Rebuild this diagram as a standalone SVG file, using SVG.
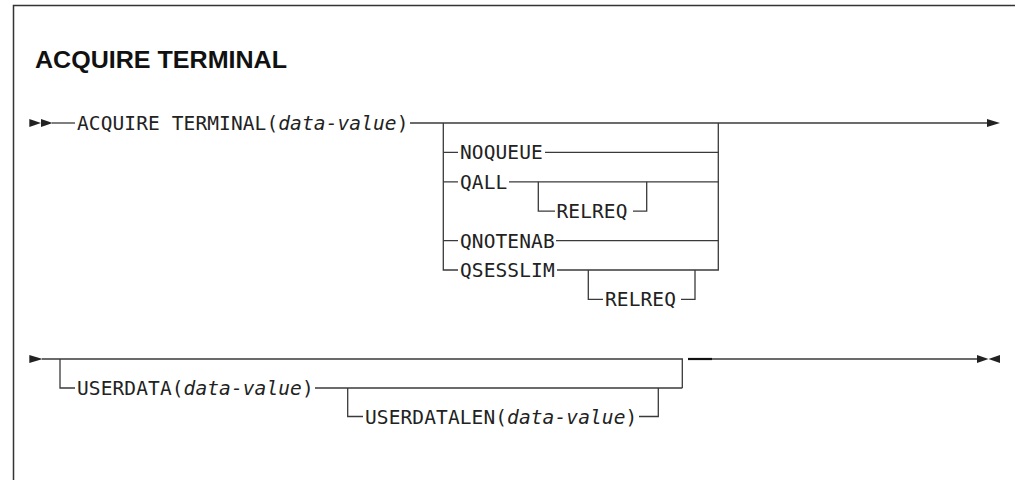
<svg xmlns="http://www.w3.org/2000/svg" width="1015" height="480" viewBox="0 0 1015 480">
<style>
.ln{stroke:#3a3a3a;stroke-width:1.3;fill:none}
.dk{stroke:#111;stroke-width:2.2;fill:none}
.ah{fill:#222;stroke:none}
.t{font-family:"DejaVu Sans Mono","Liberation Mono",monospace;font-size:19.5px;letter-spacing:0.1px;fill:#222}
.i{font-style:italic}
.ttl{font-family:"Liberation Sans",Arial,sans-serif;font-weight:bold;font-size:24px;fill:#111}
</style>
<rect x="0" y="0" width="1015" height="480" fill="#fff"/>
<path d="M13.5,480 V5.5 H1015" stroke="#333" stroke-width="1.5" fill="none"/>
<g id="title"><text class="ttl" x="35" y="67.5" textLength="252" lengthAdjust="spacingAndGlyphs">ACQUIRE TERMINAL</text></g>
<g id="connectors">
<polygon class="ah" points="29.3,119 41,123 29.3,127"/>
<polygon class="ah" points="41,119 52.7,123 41,127"/>
<path class="ln" d="M52,123 H75"/>
<path class="ln" d="M410,123 H988"/>
<polygon class="ah" points="987,119 1000,123 987,127"/>
<path class="ln" d="M443.3,123 V270 H458"/>
<path class="ln" d="M443.3,152.4 H458 M443.3,181.8 H458 M443.3,240.6 H458"/>
<path class="ln" d="M545,152.4 H718.3"/>
<path class="ln" d="M509,181.8 H718.3"/>
<path class="ln" d="M538.3,181.8 V211.2 H555"/>
<path class="ln" d="M633,211.2 H646.7 V181.8"/>
<path class="ln" d="M556,240.6 H718.3"/>
<path class="ln" d="M557,270 H718.3 V123"/>
<path class="ln" d="M588.3,270 V299.4 H603"/>
<path class="ln" d="M681,299.4 H695 V270"/>
<polygon class="ah" points="29.3,355 42.7,359 29.3,363"/>
<path class="ln" d="M42,359 H682.3 V388"/>
<path class="ln" d="M60,359 V388 H75"/>
<path class="ln" d="M315,388 H682.3"/>
<path class="ln" d="M347.7,388 V416.5 H363"/>
<path class="ln" d="M639,416.5 H658.3 V388"/>
<path class="dk" d="M688,359 H712"/>
<path class="ln" d="M712,359 H978"/>
<polygon class="ah" points="977,355 988.5,359 977,363"/>
<polygon class="ah" points="1000,355 988.5,359 1000,363"/>
</g>
<g id="n-acquire"><text class="t" x="77" y="130">ACQUIRE TERMINAL(<tspan class="i">data-value</tspan>)</text></g>
<g id="n-noqueue"><text class="t" x="460" y="159.4">NOQUEUE</text></g>
<g id="n-qall"><text class="t" x="460" y="188.8">QALL</text></g>
<g id="n-relreq1"><text class="t" x="556.5" y="218.2">RELREQ</text></g>
<g id="n-qnotenab"><text class="t" x="460" y="247.6">QNOTENAB</text></g>
<g id="n-qsesslim"><text class="t" x="460" y="277">QSESSLIM</text></g>
<g id="n-relreq2"><text class="t" x="605" y="306.4">RELREQ</text></g>
<g id="n-userdata"><text class="t" x="77" y="395">USERDATA(<tspan class="i">data-value</tspan>)</text></g>
<g id="n-userdatalen"><text class="t" x="365" y="423.5">USERDATALEN(<tspan class="i">data-value</tspan>)</text></g>
</svg>
